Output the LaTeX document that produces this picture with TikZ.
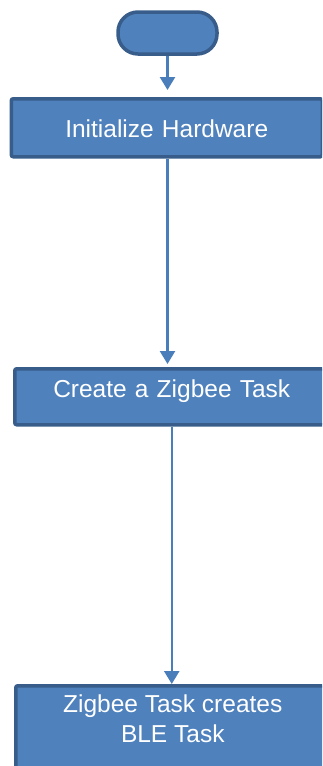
\documentclass[tikz,border=0pt]{standalone}
\usepackage{fontspec}
\setmainfont{Liberation Sans}
\usetikzlibrary{arrows.meta}
\definecolor{boxfill}{HTML}{4F81BD}
\definecolor{boxline}{HTML}{385D8A}
\definecolor{arrowc}{HTML}{4A7EBB}
\tikzset{
  flowbox/.style={draw=boxline, line width=3.5pt, fill=boxfill, rectangle, rounded corners=2pt,
    text=white, font=\fontsize{24.5}{30}\selectfont, inner sep=0pt},
  pill/.style={draw=boxline, line width=3.5pt, fill=boxfill, rectangle, rounded corners=20pt,
    minimum width=99pt, minimum height=42pt, inner sep=0pt},
  flowtext/.style={text=white, font=\fontsize{24.5}{30}\selectfont, align=center, inner sep=0pt},
  flowarrow/.style={draw=arrowc, line width=2.5pt, -{Triangle[width=15pt,length=13pt]}}
}
\begin{document}
\begin{tikzpicture}[x=1pt,y=-1pt]
\useasboundingbox (0,0) rectangle (322,766);
\clip (0,0) rectangle (322,766);
\node[pill] (start) at (167.5,33) {};
\node[flowbox, minimum width=311pt, anchor=north west, text height=39pt, text depth=19pt, text width=311pt, align=center] (b1) at (9.5,97) {Initialize Hardware};
\node[flowbox, minimum width=314pt, anchor=north west, text height=29pt, text depth=27pt, text width=314pt, align=center] (b2) at (13,367) {Create a Zigbee Task};
\node[flowbox, minimum width=314pt, minimum height=110pt, anchor=north west] (b3) at (14,684) {};
\node[flowtext, anchor=north] (t3) at ([yshift=-11pt]b3.north) {Zigbee Task creates\\BLE Task};
\draw[flowarrow, shorten >=7pt] (start.south) -- (start.south |- b1.north);
\draw[flowarrow, shorten >=3pt] (b1.south -| start.south) -- (b2.north -| start.south);
\draw[flowarrow] (b2.south) -- (b2.south |- b3.north);
\end{tikzpicture}
\end{document}
